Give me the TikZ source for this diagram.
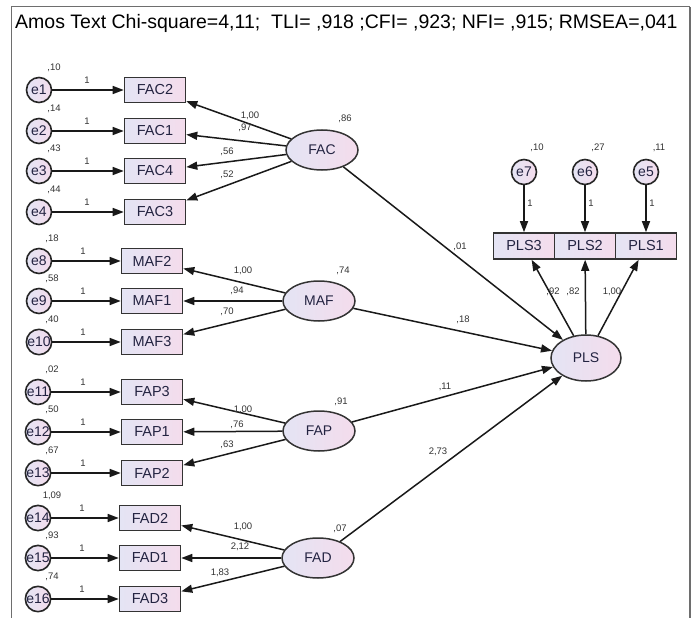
\documentclass[tikz,border=0pt]{standalone}
\usepackage{fontspec}
\setmainfont{Liberation Sans}
\usetikzlibrary{arrows.meta,shapes.geometric}
\definecolor{lavB}{RGB}{228,228,244}
\definecolor{pinkA}{RGB}{244,220,236}
\definecolor{txt}{RGB}{35,35,65}
\definecolor{frame}{RGB}{110,110,110}
\begin{document}
\begin{tikzpicture}[x=1pt,y=-1pt,
  errc/.style={circle,draw=black!85,line width=1.6pt,minimum size=25pt,inner sep=0pt,left color=lavB,right color=pinkA,text=txt,font=\fontsize{14}{14}\selectfont},
  obs/.style={rectangle,draw=black!80,line width=1.6pt,minimum width=61pt,minimum height=25pt,inner sep=0pt,left color=lavB,right color=pinkA,text=txt,font=\fontsize{14.5}{14.5}\selectfont},
  lat/.style={ellipse,draw=black!80,line width=1.5pt,minimum width=72pt,minimum height=40pt,inner sep=0pt,left color=lavB,right color=pinkA,text=txt,font=\fontsize{14}{14}\selectfont},
  arr/.style={-{Triangle[length=11pt,width=8pt]},line width=1.5pt,black!90},
  num/.style={font=\fontsize{9.5}{9.5}\selectfont,inner sep=0pt,text=black!80},
]
\useasboundingbox (0,0) rectangle (697,618);
\fill[white] (0,0) rectangle (697,618);
\draw[frame,line width=1pt] (11,618) -- (11,7) -- (690,7);
\draw[frame,line width=1.8pt] (690,7) -- (690,618);
\node[anchor=west,font=\fontsize{19.5}{19.5}\selectfont,inner sep=0pt] (title) at (15,23) {Amos Text Chi-square=4,11;\ \ TLI= ,918 ;CFI= ,923; NFI= ,915; RMSEA=,041};

% FAC group
\node[lat] (FAC) at (322,150) {FAC};
\foreach \e/\b/\y/\v in {e1/FAC2/90/{,10}, e2/FAC1/131/{,14}, e3/FAC4/171/{,43}, e4/FAC3/212/{,44}}{
  \node[errc] (\e) at (39,\y) {\e};
  \node[obs] (\b) at (155,\y) {\b};
  \draw[arr] (\e) -- (\b);
  \draw[arr] (FAC) -- (\b);
  \node[num] (v\e) at (54,\y-22) {\v};
  \node[num] (l\e) at (87,\y-10) {1};
}
% MAF group
\node[lat] (MAF) at (319,301) {MAF};
\foreach \e/\b/\y/\v in {e8/MAF2/261/{,18}, e9/MAF1/301/{,58}, e10/MAF3/342/{,40}}{
  \node[errc] (\e) at (39,\y) {\e};
  \node[obs] (\b) at (152,\y) {\b};
  \draw[arr] (\e) -- (\b);
  \draw[arr] (MAF) -- (\b);
  \node[num] (v\e) at (52,\y-22) {\v};
  \node[num] (l\e) at (83,\y-10) {1};
}
% FAP group
\node[lat] (FAP) at (319,431) {FAP};
\foreach \e/\b/\y/\v in {e11/FAP3/392/{,02}, e12/FAP1/432/{,50}, e13/FAP2/473/{,67}}{
  \node[errc] (\e) at (38,\y) {\e};
  \node[obs] (\b) at (152,\y) {\b};
  \draw[arr] (\e) -- (\b);
  \draw[arr] (FAP) -- (\b);
  \node[num] (v\e) at (52,\y-22) {\v};
  \node[num] (l\e) at (83,\y-10) {1};
}
% FAD group
\node[lat] (FAD) at (318,558) {FAD};
\foreach \e/\b/\y/\v in {e14/FAD2/518/{1,09}, e15/FAD1/558/{,93}, e16/FAD3/599/{,74}}{
  \node[errc] (\e) at (38,\y) {\e};
  \node[obs] (\b) at (150,\y) {\b};
  \draw[arr] (\e) -- (\b);
  \draw[arr] (FAD) -- (\b);
  \node[num] (v\e) at (52,\y-22) {\v};
  \node[num] (l\e) at (82,\y-10) {1};
}
% latent variances
\node[num] (vFAC) at (345,119) {,86};
\node[num] (vMAF) at (343,271) {,74};
\node[num] (vFAP) at (341,402) {,91};
\node[num] (vFAD) at (340,529) {,07};
% loadings
\node[num] (a1) at (250,116) {1,00};
\node[num] (a2) at (245,128) {,97};
\node[num] (a3) at (227,152) {,56};
\node[num] (a4) at (227,175) {,52};
\node[num] (b1) at (243,271) {1,00};
\node[num] (b2) at (237,291) {,94};
\node[num] (b3) at (227,312) {,70};
\node[num] (c1) at (243,410) {1,00};
\node[num] (c2) at (237,425) {,76};
\node[num] (c3) at (227,445) {,63};
\node[num] (d1) at (243,527) {1,00};
\node[num] (d2) at (240,547) {2,12};
\node[num] (d3) at (220,573) {1,83};

% PLS
\node[lat,minimum height=46pt,minimum width=70pt] (PLS) at (586,358) {PLS};
\foreach \e/\b/\x/\v in {e7/PLS3/524/{,10}, e6/PLS2/585/{,27}, e5/PLS1/646/{,11}}{
  \node[obs,minimum height=26pt] (\b) at (\x,246) {\b};
  \node[errc] (\e) at (\x,172) {\e};
  \draw[arr] (\e) -- (\b);
  \draw[arr] (PLS) -- (\b);
  \node[num] (v\e) at (\x+13,148) {\v};
  \node[num] (l\e) at (\x+6,203) {1};
}
\node[num] (p1) at (553,292) {,92};
\node[num] (p2) at (573,292) {,82};
\node[num] (p3) at (612,292) {1,00};

% structural paths
\draw[arr] (FAC) -- (PLS);
\draw[arr] (MAF) -- (PLS);
\draw[arr] (FAP) -- (PLS);
\draw[arr] (FAD) -- (PLS);
\node[num] (s1) at (460,247) {,01};
\node[num] (s2) at (463,320) {,18};
\node[num] (s3) at (445,387) {,11};
\node[num] (s4) at (438,452) {2,73};
\end{tikzpicture}
\end{document}
